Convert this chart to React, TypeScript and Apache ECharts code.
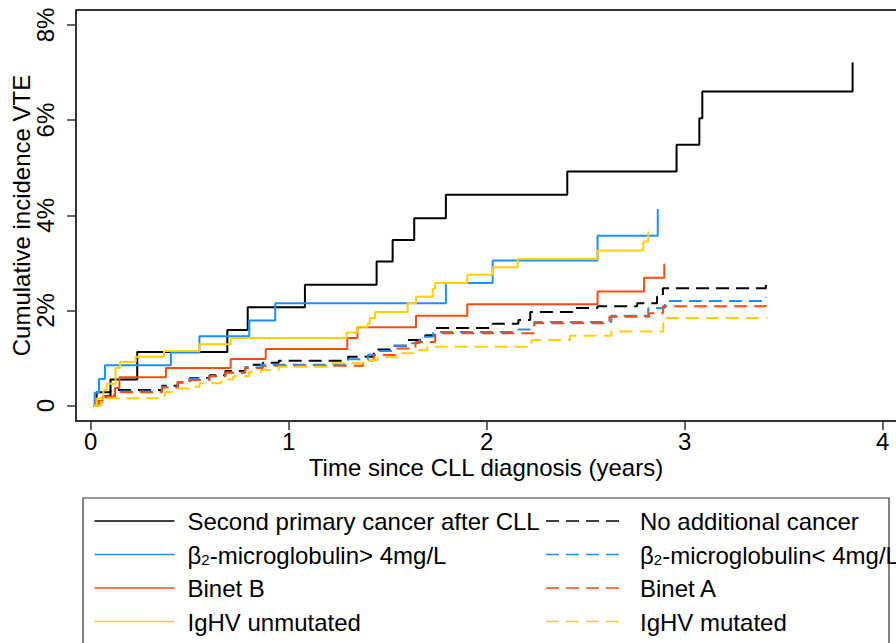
import { useEffect, useRef } from 'react';
import * as echarts from 'echarts';

// ---- data (years, cumulative incidence %) ----
const xTicks = [0, 1, 2, 3, 4];
const yTicks = [0, 2, 4, 6, 8];

const seriesNames = [
  'Second primary cancer after CLL',
  'No additional cancer',
  'β2-microglobulin> 4mg/L',
  'β2-microglobulin< 4mg/L',
  'Binet B',
  'Binet A',
  'IgHV unmutated',
  'IgHV mutated',
];

const secondCancer = [
  [0.015, 0], [0.03, 0.28], [0.1, 0.55], [0.235, 1.13], [0.69, 1.59], [0.793, 2.07],
  [1.082, 2.54], [1.444, 3.03], [1.525, 3.48], [1.634, 3.94], [1.794, 4.43], [2.407, 4.92],
  [2.959, 5.48], [3.074, 6.04], [3.089, 6.6], [3.848, 7.21],
];
const noCancer = [
  [0.015, 0], [0.04, 0.1], [0.07, 0.2], [0.1, 0.33], [0.36, 0.42], [0.44, 0.5], [0.5, 0.58],
  [0.6, 0.64], [0.68, 0.73], [0.78, 0.8], [0.81, 0.86], [0.87, 0.9], [0.95, 0.945], [1.3, 1.03],
  [1.43, 1.18], [1.52, 1.26], [1.6, 1.38], [1.69, 1.48], [1.74, 1.63], [2.03, 1.72], [2.16, 1.8],
  [2.22, 1.97], [2.45, 2.05], [2.56, 2.09], [2.76, 2.15], [2.86, 2.29], [2.89, 2.47], [3.41, 2.54],
];
const b2mHigh = [
  [0.015, 0], [0.02, 0.27], [0.042, 0.56], [0.072, 0.85], [0.405, 1.12], [0.549, 1.46],
  [0.801, 1.79], [0.932, 2.15], [1.794, 2.58], [2.03, 3.05], [2.56, 3.57], [2.864, 4.13],
];
const b2mLow = [
  [0.015, 0], [0.04, 0.08], [0.07, 0.18], [0.12, 0.3], [0.36, 0.4], [0.44, 0.5], [0.5, 0.57],
  [0.6, 0.62], [0.68, 0.7], [0.78, 0.8], [0.86, 0.86], [1.29, 0.975], [1.4, 1.07], [1.46, 1.15],
  [1.53, 1.26], [1.6, 1.31], [1.66, 1.45], [1.73, 1.55], [2.16, 1.6], [2.24, 1.76], [2.63, 1.89],
  [2.816, 2.05], [2.9, 2.2], [3.41, 2.28],
];
const binetB = [
  [0.015, 0], [0.03, 0.1], [0.06, 0.19], [0.123, 0.37], [0.145, 0.6], [0.38, 0.79], [0.707, 0.98],
  [0.884, 1.19], [1.296, 1.42], [1.347, 1.65], [1.643, 1.89], [1.902, 2.13], [2.56, 2.4],
  [2.795, 2.69], [2.897, 2.98],
];
const binetA = [
  [0.015, 0], [0.04, 0.07], [0.07, 0.17], [0.12, 0.28], [0.36, 0.38], [0.44, 0.48], [0.5, 0.54],
  [0.6, 0.62], [0.68, 0.69], [0.78, 0.79], [0.87, 0.84], [1.375, 0.95], [1.43, 1.065], [1.54, 1.2],
  [1.64, 1.34], [1.74, 1.52], [2.24, 1.73], [2.62, 1.87], [2.82, 1.94], [2.89, 2.09], [3.41, 2.15],
];
const ighvUnmut = [
  [0.015, 0], [0.03, 0.15], [0.064, 0.33], [0.081, 0.46], [0.126, 0.79], [0.148, 0.92],
  [0.227, 1.03], [0.37, 1.15], [0.549, 1.29], [0.707, 1.42], [1.293, 1.54], [1.347, 1.66],
  [1.399, 1.72], [1.41, 1.84], [1.436, 1.97], [1.601, 2.15], [1.643, 2.29], [1.727, 2.45],
  [1.739, 2.58], [1.902, 2.75], [2.03, 2.91], [2.157, 3.08], [2.56, 3.26], [2.791, 3.45],
  [2.816, 3.66],
];
const ighvMut = [
  [0.015, 0], [0.05, 0.08], [0.09, 0.155], [0.375, 0.29], [0.44, 0.36], [0.5, 0.4], [0.55, 0.47],
  [0.66, 0.55], [0.72, 0.62], [0.8, 0.71], [0.86, 0.75], [0.95, 0.82], [1.2, 0.89], [1.41, 0.96],
  [1.45, 1.02], [1.56, 1.1], [1.65, 1.17], [1.7, 1.24], [2.227, 1.38], [2.42, 1.47], [2.63, 1.56],
  [2.892, 1.84], [3.414, 1.86],
];

const seriesData = [secondCancer, noCancer, b2mHigh, b2mLow, binetB, binetA, ighvUnmut, ighvMut];
const seriesColors = ['#000000', '#000000', '#1e8fff', '#1e8fff', '#ff4a0f', '#ff4a0f', '#ffd000', '#ffd000'];
const seriesDashed = [false, true, false, true, false, true, false, true];

const FONT = '"Liberation Sans", Arial, Helvetica, sans-serif';
const DASH = [13, 7];

function richName(n: string) {
  if (n.startsWith('β2')) return '{t|β}{s|2}{t|' + n.slice(2) + '}';
  return '{t|' + n + '}';
}

export default function App() {
  const ref = useRef<HTMLDivElement>(null);
  useEffect(() => {
    if (!ref.current) return;
    const chart = echarts.init(ref.current, undefined, { renderer: 'svg' });

    const axisColor = '#333333';
    const rowY = [519.5, 553, 586.5, 620];
    const cols = [
      { x1: 94.5, x2: 174.5, tx: 187.5 },
      { x1: 546, x2: 621, tx: 640 },
    ];
    const legendEls: any[] = [
      {
        type: 'rect',
        shape: { x: 83, y: 498, width: 806, height: 170 },
        style: { fill: 'none', stroke: '#333', lineWidth: 1.2 },
        silent: true,
      },
    ];
    seriesNames.forEach((name, i) => {
      const row = Math.floor(i / 2);
      const col = cols[i % 2];
      const y = rowY[row];
      legendEls.push({
        type: 'line',
        shape: { x1: col.x1, y1: y + 1.5, x2: col.x2, y2: y + 1.5 },
        style: {
          stroke: seriesColors[i],
          lineWidth: 1.6,
          lineDash: seriesDashed[i] ? DASH : null,
        },
        silent: true,
      });
      legendEls.push({
        type: 'text',
        x: col.tx,
        y: y,
        style: {
          text: richName(name),
          fill: '#000',
          textAlign: 'left',
          textVerticalAlign: 'middle',
          align: 'left',
          verticalAlign: 'middle',
          rich: {
            t: { fontSize: 24, fontFamily: FONT, fill: '#000', lineHeight: 28, verticalAlign: 'bottom' },
            s: { fontSize: 15, fontFamily: FONT, fill: '#000', lineHeight: 18, verticalAlign: 'bottom' },
          },
        },
        silent: true,
      });
    });

    const option: any = {
      animation: false,
      backgroundColor: '#ffffff',
      grid: { left: 76, top: 10, right: 0, bottom: 222, containLabel: false, outerBoundsMode: 'none' },
      xAxis: {
        type: 'value',
        min: -0.0742,
        max: 4.0672,
        name: 'Time since CLL diagnosis (years)',
        nameLocation: 'middle',
        nameGap: 34,
        nameMoveOverlap: false,
        nameTextStyle: { fontSize: 24, fontFamily: FONT, color: '#000' },
        axisLine: { show: true, onZero: false, lineStyle: { color: axisColor, width: 2 } },
        axisTick: { show: true, customValues: xTicks, length: 9, lineStyle: { color: axisColor, width: 1.5 } },
        axisLabel: {
          customValues: xTicks,
          fontSize: 24,
          fontFamily: FONT,
          color: '#000',
          margin: 8,
          formatter: (v: number) => String(v),
        },
        splitLine: { show: false },
      },
      yAxis: {
        type: 'value',
        min: -0.3214,
        max: 8.313,
        name: 'Cumulative incidence VTE',
        nameLocation: 'middle',
        nameGap: 43,
        nameRotate: 90,
        nameMoveOverlap: false,
        nameTextStyle: { fontSize: 24, fontFamily: FONT, color: '#000' },
        axisLine: { show: true, onZero: false, lineStyle: { color: axisColor, width: 2 } },
        axisTick: { show: true, customValues: yTicks, length: 9, lineStyle: { color: axisColor, width: 1.5 } },
        axisLabel: {
          customValues: yTicks,
          rotate: 90,
          fontSize: 24,
          fontFamily: FONT,
          color: '#000',
          margin: 19,
          formatter: (v: number) => (v === 0 ? '0' : v + '%'),
        },
        splitLine: { show: false },
      },
      series: seriesData.map((d, i) => ({
        name: seriesNames[i],
        type: 'line',
        step: 'end',
        data: d,
        showSymbol: false,
        symbol: 'none',
        silent: true,
        clip: true,
        lineStyle: {
          color: seriesColors[i],
          width: 2,
          type: seriesDashed[i] ? DASH : 'solid',
        },
        itemStyle: { color: seriesColors[i] },
        z: 2 + i,
      })),
      graphic: [
        {
          type: 'line',
          shape: { x1: 76, y1: 10, x2: 896, y2: 10 },
          style: { stroke: axisColor, lineWidth: 2 },
          silent: true,
        },
        ...legendEls,
      ],
    };
    chart.setOption(option);
    return () => chart.dispose();
  }, []);
  return (
    <div
      ref={ref}
      style={{ position: 'fixed', left: 0, top: 0, width: 896, height: 643, background: '#fff' }}
    />
  );
}
